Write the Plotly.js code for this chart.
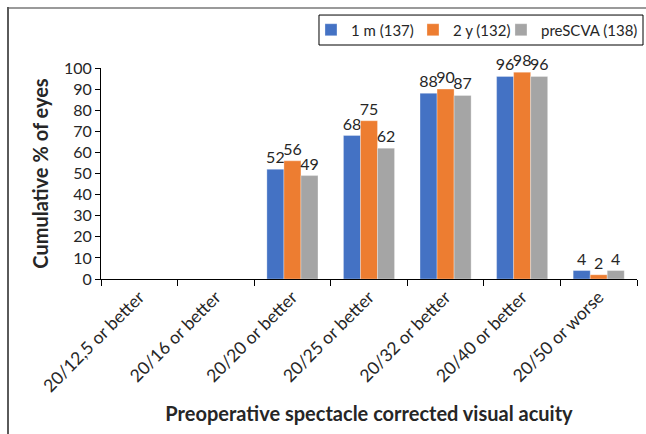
<!DOCTYPE html>
<html>
<head>
<meta charset="utf-8">
<script src="https://cdn.plot.ly/plotly-3.0.1.min.js"></script>
<style>
html,body{margin:0;padding:0;background:#fff;}
#wrap{position:relative;width:646px;height:434px;overflow:hidden;}
#chart{position:absolute;left:0;top:0;width:646px;height:434px;}
#ltop{position:absolute;left:8px;top:7px;width:640px;height:0;border-top:2px solid #9a9a9a;}
#lleft{position:absolute;left:7px;top:7px;width:0;height:430px;border-left:2px solid #5a5a5a;}
</style>
</head>
<body>
<div id="wrap"><div id="chart"></div><div id="ltop"></div><div id="lleft"></div></div>
<script>
const categories = ["20/12,5 or better","20/16 or better","20/20 or better","20/25 or better","20/32 or better","20/40 or better","20/50 or worse"];
const seriesNames = ["1 m (137)","2 y (132)","preSCVA (138)"];
const oneMonth = [null,null,52,68,88,96,4];
const twoYear = [null,null,56,75,90,98,2];
const preSCVA = [null,null,49,62,87,96,4];
const colors = ["#4472C4","#ED7D31","#A5A5A5"];
const FONT = "Lato, 'Open Sans', sans-serif";

const legendIds = ['legend','legend2','legend3'];
const allVals = [oneMonth,twoYear,preSCVA];
const traces = allVals.map((v,i)=>({
  type:'bar', x:categories, y:v, name:seriesNames[i], legend:legendIds[i],
  marker:{color:colors[i], line:{color:'rgba(255,255,255,0.6)', width:0.5}},
  text:v.map(d=>d==null?'':String(d)), textposition:'outside',
  textfont:{family:FONT,size:16,color:'#262626'},
  constraintext:'none', cliponaxis:false, hoverinfo:'none'
}));

const legendXs = [0.4814,0.6393,0.7755];
function mkLegend(x){
  return {orientation:'h', xref:'container', yref:'container', x:x, xanchor:'left', y:0.9309, yanchor:'middle',
    borderwidth:0, bgcolor:'rgba(0,0,0,0)',
    font:{family:FONT,size:15,color:'#262626'}};
}

const layout = {
  width:646, height:434,
  margin:{l:101,r:9,t:68,b:155},
  paper_bgcolor:'#fff', plot_bgcolor:'#fff',
  font:{family:FONT,color:'#262626'},
  barmode:'group', bargap:0.333, bargroupgap:0,
  showlegend:true,
  legend:mkLegend(legendXs[0]),
  legend2:mkLegend(legendXs[1]),
  legend3:mkLegend(legendXs[2]),
  shapes:[{type:'rect', xref:'paper', yref:'paper', x0:0.4067, x1:1.0112, y0:1.109, y1:1.251,
    line:{color:'#000',width:1}, fillcolor:'rgba(0,0,0,0)', layer:'above'}],
  xaxis:{type:'category', showline:true, linecolor:'#000', linewidth:1,
    ticks:'outside', tickson:'boundaries', ticklen:6, tickcolor:'#000',
    tickangle:-45, tickfont:{family:FONT,size:17.5,color:'#262626'},
    showgrid:false, zeroline:false,
    title:{text:'<b>Preoperative spectacle corrected visual acuity</b>', font:{family:FONT,size:20,color:'#262626'}, standoff:11}},
  yaxis:{range:[0,100], dtick:10, showline:true, linecolor:'#000', linewidth:1,
    ticks:'outside', ticklen:5, tickcolor:'#000', showgrid:false, zeroline:false,
    tickfont:{family:FONT,size:16,color:'#262626'},
    title:{text:'<b>Cumulative % of eyes</b>', font:{family:FONT,size:20,color:'#262626'}, standoff:9}}
};
Plotly.newPlot('chart', traces, layout, {staticPlot:true, displayModeBar:false});
</script>
</body>
</html>
